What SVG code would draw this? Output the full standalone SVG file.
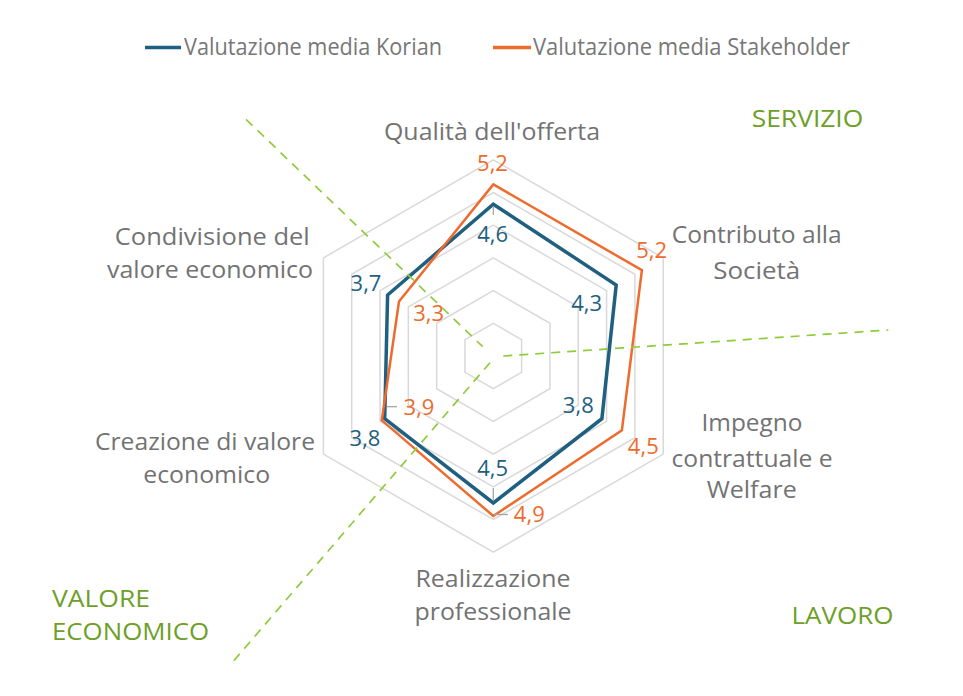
<svg xmlns="http://www.w3.org/2000/svg" width="963" height="696" viewBox="0 0 963 696">
<style>
.bg{fill:#ffffff}
.ring{fill:none;stroke:#d9d9d9;stroke-width:1.5;stroke-linejoin:miter}
.kor{fill:none;stroke:#1f5f7f;stroke-width:3.5;stroke-linejoin:miter}
.stk{fill:none;stroke:#ee6b2d;stroke-width:2.5;stroke-linejoin:miter}
.cat{font-family:"Open Sans","Liberation Sans",sans-serif;font-size:24px;fill:#737373;text-anchor:middle}
.leg{font-family:"Open Sans","Liberation Sans",sans-serif;font-size:23px;fill:#777777}
.vk{font-family:"Open Sans","Liberation Sans",sans-serif;font-size:22px;fill:#1f5f7f;text-anchor:middle}
.vs{font-family:"Open Sans","Liberation Sans",sans-serif;font-size:22px;fill:#ee6b2d;text-anchor:middle}
.quad{font-family:"Open Sans","Liberation Sans",sans-serif;font-size:24px;fill:#6e9f28}
.tick{stroke:#a6a6a6;stroke-width:1.3;fill:none}
.sep{fill:none;stroke:#8fcc3c;stroke-width:1.7;stroke-dasharray:9 7}
</style>
<rect class="bg" x="0" y="0" width="963" height="696"/>

<g id="legend">
  <line x1="145" y1="47.5" x2="181" y2="47.5" stroke="#1f5f7f" stroke-width="3.5"/>
  <text class="leg" x="184" y="55" textLength="258" lengthAdjust="spacingAndGlyphs">Valutazione media Korian</text>
  <line x1="493" y1="47.5" x2="531" y2="47.5" stroke="#ee6b2d" stroke-width="3.5"/>
  <text class="leg" x="533" y="55" textLength="317" lengthAdjust="spacingAndGlyphs">Valutazione media Stakeholder</text>
</g>

<g id="grid">
  <polygon class="ring" points="493.3,323.3 521.62,339.65 521.62,372.35 493.3,388.7 464.98,372.35 464.98,339.65"/>
  <polygon class="ring" points="493.3,290.6 549.94,323.3 549.94,388.7 493.3,421.4 436.66,388.7 436.66,323.3"/>
  <polygon class="ring" points="493.3,257.9 578.26,306.95 578.26,405.05 493.3,454.1 408.34,405.05 408.34,306.95"/>
  <polygon class="ring" points="493.3,225.2 606.57,290.6 606.57,421.4 493.3,486.8 380.03,421.4 380.03,290.6"/>
  <polygon class="ring" points="493.3,192.5 634.89,274.25 634.89,437.75 493.3,519.5 351.71,437.75 351.71,274.25"/>
  <polygon class="ring" points="493.3,159.8 663.21,257.9 663.21,454.1 493.3,552.2 323.39,454.1 323.39,257.9"/>
</g>

<g id="series-korian">
  <polygon class="kor" points="493.3,204.2 616.2,285.05 601.9,418.7 493.3,503 384.7,418.7 387.6,294.95"/>
</g>
<g id="series-stakeholder">
  <polygon class="stk" points="493.3,184.4 641.9,270.2 621.9,430.25 493.3,516 381.8,420.35 399,301.55"/>
</g>

<g id="leaders">
  <line class="tick" x1="493.3" y1="206" x2="493.3" y2="215"/>
  <line class="tick" x1="493.3" y1="488" x2="493.3" y2="501"/>
  <line class="tick" x1="494" y1="514.5" x2="508" y2="514.5"/>
  <line class="tick" x1="387" y1="406.7" x2="397" y2="406.7"/>
</g>

<g id="value-labels">
  <text class="vs" x="492.5" y="171">5,2</text>
  <text class="vk" x="492.7" y="242">4,6</text>
  <text class="vs" x="651.7" y="257.5">5,2</text>
  <text class="vk" x="586.7" y="311">4,3</text>
  <text class="vk" x="578.3" y="413">3,8</text>
  <text class="vs" x="643.3" y="453.5">4,5</text>
  <text class="vk" x="492.7" y="476">4,5</text>
  <text class="vs" x="529.3" y="522">4,9</text>
  <text class="vs" x="419" y="414.5">3,9</text>
  <text class="vk" x="365" y="446.3">3,8</text>
  <text class="vk" x="366" y="291">3,7</text>
  <text class="vs" x="428.7" y="321.3">3,3</text>
</g>

<g id="axis-qualita"><text class="cat" x="492" y="140" textLength="216" lengthAdjust="spacingAndGlyphs">Qualità dell'offerta</text></g>
<g id="axis-contributo">
  <text class="cat" x="756.7" y="243.3" textLength="170" lengthAdjust="spacingAndGlyphs">Contributo alla</text>
  <text class="cat" x="756.7" y="279.3" textLength="87" lengthAdjust="spacingAndGlyphs">Società</text>
</g>
<g id="axis-impegno">
  <text class="cat" x="752" y="431" textLength="101" lengthAdjust="spacingAndGlyphs">Impegno</text>
  <text class="cat" x="752" y="466.7" textLength="161" lengthAdjust="spacingAndGlyphs">contrattuale e</text>
  <text class="cat" x="751.7" y="498.3" textLength="90" lengthAdjust="spacingAndGlyphs">Welfare</text>
</g>
<g id="axis-realizzazione">
  <text class="cat" x="493" y="586.7" textLength="155" lengthAdjust="spacingAndGlyphs">Realizzazione</text>
  <text class="cat" x="493" y="620" textLength="157" lengthAdjust="spacingAndGlyphs">professionale</text>
</g>
<g id="axis-creazione">
  <text class="cat" x="205" y="450" textLength="220" lengthAdjust="spacingAndGlyphs">Creazione di valore</text>
  <text class="cat" x="206.7" y="483.3" textLength="127" lengthAdjust="spacingAndGlyphs">economico</text>
</g>
<g id="axis-condivisione">
  <text class="cat" x="212.3" y="245" textLength="195" lengthAdjust="spacingAndGlyphs">Condivisione del</text>
  <text class="cat" x="210" y="278.3" textLength="206" lengthAdjust="spacingAndGlyphs">valore economico</text>
</g>

<g id="connectors">
  <line class="sep" x1="246" y1="119.3" x2="482.7" y2="346.7"/>
  <line class="sep" x1="503.3" y1="356" x2="888.3" y2="330"/>
  <line class="sep" x1="490" y1="362.7" x2="231" y2="664"/>
</g>

<g id="quadrant-servizio"><text class="quad" x="751.7" y="127.3" textLength="111.6" lengthAdjust="spacingAndGlyphs">SERVIZIO</text></g>
<g id="quadrant-lavoro"><text class="quad" x="791.5" y="624" textLength="102" lengthAdjust="spacingAndGlyphs">LAVORO</text></g>
<g id="quadrant-valore">
  <text class="quad" x="52" y="606.7" textLength="98" lengthAdjust="spacingAndGlyphs">VALORE</text>
  <text class="quad" x="52" y="640" textLength="157" lengthAdjust="spacingAndGlyphs">ECONOMICO</text>
</g>
</svg>
